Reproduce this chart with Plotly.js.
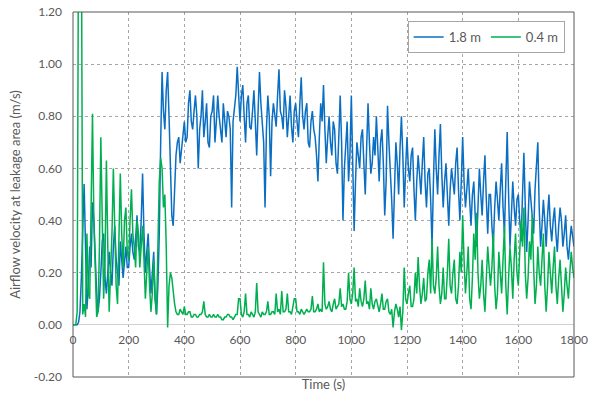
<!DOCTYPE html>
<html>
<head>
<meta charset="utf-8">
<script src="https://cdn.plot.ly/plotly-3.0.1.min.js"></script>
<style>html,body{margin:0;padding:0;background:#fff;}#chart{width:600px;height:403px;}</style>
</head>
<body>
<div id="chart"></div>
<script>
// Sampling grid (s)
const timeStep = 5;
// Airflow velocity at 1.8 m (m/s), one value every 5 s from 0 to 1800 s
const v18 = [
  0.00,0.00,0.00,0.00,0.01,0.05,0.18,0.35,0.54,0.30, 0.06,0.15,0.30,0.22,0.47,0.40,0.25,0.12,0.05,0.10,
  0.20,0.32,0.35,0.18,0.12,0.22,0.28,0.20,0.15,0.30, 0.38,0.25,0.20,0.15,0.32,0.26,0.18,0.24,0.30,0.22,
  0.22,0.30,0.35,0.28,0.25,0.33,0.42,0.30,0.28,0.40, 0.58,0.35,0.20,0.28,0.35,0.22,0.12,0.20,0.28,0.10,
  0.04,0.15,0.35,0.70,0.97,0.82,0.75,0.90,0.97,0.80, 0.60,0.42,0.38,0.55,0.65,0.70,0.72,0.62,0.68,0.75,
  0.78,0.70,0.72,0.85,0.90,0.78,0.75,0.82,0.88,0.80, 0.60,0.75,0.80,0.90,0.72,0.78,0.85,0.70,0.68,0.80,
  0.82,0.88,0.70,0.78,0.88,0.80,0.76,0.70,0.85,0.78, 0.72,0.82,0.80,0.75,0.45,0.78,0.82,0.88,0.99,0.85,
  0.78,0.88,0.92,0.80,0.70,0.85,0.88,0.76,0.75,0.82, 0.90,0.78,0.65,0.82,0.97,0.85,0.78,0.70,0.45,0.75,
  0.88,0.80,0.57,0.78,0.85,0.80,0.76,0.88,0.98,0.82, 0.80,0.75,0.90,0.84,0.72,0.80,0.88,0.76,0.70,0.82,
  0.85,0.78,0.72,0.85,0.95,0.80,0.75,0.82,0.85,0.70, 0.68,0.78,0.82,0.75,0.72,0.65,0.55,0.72,0.85,0.78,
  0.92,0.75,0.62,0.72,0.80,0.70,0.65,0.78,0.75,0.62, 0.58,0.72,0.88,0.70,0.40,0.60,0.70,0.78,0.55,0.65,
  0.88,0.62,0.36,0.55,0.70,0.65,0.60,0.72,0.75,0.62, 0.50,0.68,0.85,0.70,0.58,0.62,0.72,0.65,0.80,0.68,
  0.55,0.70,0.75,0.62,0.42,0.55,0.84,0.70,0.60,0.48, 0.33,0.55,0.70,0.62,0.50,0.68,0.80,0.65,0.45,0.60,
  0.72,0.60,0.55,0.65,0.68,0.52,0.40,0.55,0.65,0.58, 0.50,0.62,0.72,0.55,0.45,0.58,0.60,0.48,0.30,0.55,
  0.75,0.60,0.50,0.65,0.77,0.58,0.45,0.55,0.62,0.50, 0.38,0.52,0.60,0.55,0.50,0.62,0.68,0.52,0.40,0.55,
  0.72,0.55,0.45,0.52,0.60,0.48,0.38,0.50,0.55,0.42, 0.30,0.45,0.60,0.50,0.42,0.55,0.65,0.48,0.35,0.50,
  0.50,0.38,0.30,0.45,0.55,0.48,0.40,0.52,0.62,0.45, 0.35,0.55,0.74,0.50,0.30,0.42,0.55,0.45,0.38,0.48,
  0.50,0.40,0.32,0.50,0.66,0.45,0.28,0.40,0.55,0.48, 0.40,0.35,0.52,0.60,0.70,0.45,0.30,0.38,0.48,0.40,
  0.30,0.42,0.50,0.38,0.32,0.40,0.45,0.35,0.28,0.38, 0.45,0.40,0.30,0.35,0.42,0.30,0.25,0.32,0.38,0.34,
  0.30
];
// Airflow velocity at 0.4 m (m/s), one value every 5 s from 0 to 1800 s
const v04 = [
  0.00,0.00,0.00,0.05,1.60,1.60,1.60,0.04,0.08,0.03, 0.35,0.12,0.10,0.45,0.81,0.40,0.15,0.03,0.05,0.30,
  0.72,0.35,0.10,0.25,0.63,0.30,0.05,0.20,0.35,0.60, 0.42,0.15,0.08,0.30,0.58,0.35,0.22,0.40,0.45,0.28,
  0.25,0.40,0.52,0.35,0.30,0.22,0.40,0.35,0.22,0.30, 0.38,0.25,0.10,0.20,0.30,0.15,0.05,0.12,0.25,0.10,
  0.04,0.30,0.55,0.64,0.60,0.45,0.50,0.30,-0.01,0.15, 0.20,0.18,0.12,0.08,0.05,0.04,0.04,0.06,0.05,0.04,
  0.07,0.04,0.04,0.05,0.05,0.03,0.03,0.04,0.04,0.03, 0.03,0.04,0.04,0.05,0.09,0.04,0.03,0.03,0.04,0.03,
  0.03,0.04,0.03,0.03,0.04,0.03,0.03,0.02,0.02,0.03, 0.03,0.04,0.04,0.03,0.03,0.02,0.03,0.04,0.04,0.10,
  0.10,0.04,0.03,0.05,0.12,0.04,0.04,0.03,0.05,0.04, 0.03,0.05,0.16,0.05,0.04,0.03,0.05,0.04,0.04,0.05,
  0.09,0.04,0.04,0.05,0.05,0.04,0.12,0.05,0.06,0.04, 0.13,0.05,0.05,0.06,0.12,0.05,0.05,0.04,0.07,0.10,
  0.10,0.05,0.05,0.04,0.06,0.05,0.04,0.05,0.06,0.05, 0.05,0.06,0.11,0.05,0.05,0.06,0.08,0.05,0.06,0.05,
  0.24,0.08,0.06,0.07,0.09,0.06,0.05,0.08,0.10,0.06, 0.07,0.08,0.14,0.07,0.08,0.06,0.06,0.09,0.20,0.10,
  0.08,0.12,0.22,0.09,0.10,0.07,0.14,0.09,0.07,0.10, 0.17,0.08,0.09,0.06,0.14,0.08,0.06,0.09,0.10,0.07,
  0.05,0.08,0.12,0.06,0.06,0.09,0.10,0.05,0.04,0.06, -0.01,0.05,0.08,0.06,0.03,0.07,-0.02,0.05,0.22,0.10,
  0.08,0.12,0.15,0.07,0.07,0.10,0.20,0.12,0.26,0.15, 0.08,0.12,0.18,0.09,0.10,0.20,0.25,0.12,0.33,0.15,
  0.12,0.18,0.30,0.15,0.08,0.12,0.22,0.10,0.10,0.20, 0.33,0.15,0.12,0.20,0.25,0.10,0.08,0.15,0.28,0.20,
  0.42,0.25,0.12,0.20,0.30,0.10,0.06,0.18,0.35,0.25, 0.43,0.20,0.10,0.15,0.25,0.12,0.05,0.18,0.30,0.22,
  0.15,0.22,0.35,0.15,0.06,0.12,0.28,0.20,0.12,0.25, 0.38,0.15,0.04,0.18,0.30,0.22,0.10,0.25,0.35,0.20,
  0.15,0.28,0.40,0.30,0.45,0.20,0.10,0.18,0.32,0.25, 0.42,0.22,0.08,0.15,0.30,0.20,0.15,0.25,0.35,0.15,
  0.05,0.15,0.28,0.20,0.12,0.22,0.30,0.15,0.08,0.18, 0.25,0.15,0.05,0.12,0.22,0.15,0.10,0.20,0.28,0.22,
  0.18
];
const seriesNames = ['1.8 m', '0.4 m'];
const xTicks = [0, 200, 400, 600, 800, 1000, 1200, 1400, 1600, 1800];
const yTicks = [-0.2, 0, 0.2, 0.4, 0.6, 0.8, 1.0, 1.2];
const yTickText = ['-0.20', '0.00', '0.20', '0.40', '0.60', '0.80', '1.00', '1.20'];

const time = v18.map((_, i) => i * timeStep);
const grey = '#595959';
const font = 'Lato, "Open Sans", sans-serif';

const traces = [
  {x: time, y: v18, name: seriesNames[0], type: 'scatter', mode: 'lines',
   line: {color: '#0a6fc2', width: 1.5}},
  {x: time, y: v04, name: seriesNames[1], type: 'scatter', mode: 'lines',
   line: {color: '#00b050', width: 1.5}},
  {x: [], y: [], xaxis: 'x2', yaxis: 'y', showlegend: false, hoverinfo: 'skip', type: 'scatter'}
];

const layout = {
  width: 600, height: 403,
  margin: {l: 73, r: 26, t: 12, b: 26},
  paper_bgcolor: '#fff', plot_bgcolor: '#fff',
  font: {family: font, color: grey, size: 12},
  showlegend: true,
  legend: {orientation: 'h', x: 0.668, y: 0.975, xanchor: 'left', yanchor: 'top',
           bordercolor: '#a6a6a6', borderwidth: 1, bgcolor: '#fff',
           font: {family: font, size: 13, color: grey}},
  xaxis: {range: [0, 1800], tickvals: xTicks, showticklabels: false,
          showgrid: true, gridcolor: '#a6a6a6', griddash: 'dot', gridwidth: 1,
          zeroline: false, showline: false, ticks: '',
          title: {text: 'Time (s)', font: {family: font, size: 13, color: grey}, standoff: 2}},
  xaxis2: {overlaying: 'x', anchor: 'free', position: 0.2 / 1.4, range: [0, 1800],
           tickvals: xTicks, ticktext: xTicks.map(String), showgrid: false,
           zeroline: false, showline: false, ticks: '', ticklabelstandoff: 6,
           tickfont: {family: font, size: 12, color: grey}, side: 'bottom'},
  yaxis: {range: [-0.2, 1.2], tickvals: yTicks, ticktext: yTickText,
          showgrid: true, gridcolor: '#a6a6a6', griddash: 'dot', gridwidth: 1,
          zeroline: true, zerolinecolor: '#d0d0d0', zerolinewidth: 1,
          showline: false, ticks: '', ticklabelstandoff: 10,
          tickfont: {family: font, size: 12, color: grey},
          title: {text: 'Airflow velocity at leakage area (m/s)', font: {family: font, size: 13, color: grey}, standoff: 10}},
  shapes: [{type: 'rect', xref: 'paper', yref: 'paper', x0: 0, x1: 1, y0: 0, y1: 1,
            line: {color: '#595959', width: 1}, fillcolor: 'rgba(0,0,0,0)', layer: 'above'}]
};

Plotly.newPlot('chart', traces, layout, {displayModeBar: false, staticPlot: true});
</script>
</body>
</html>
